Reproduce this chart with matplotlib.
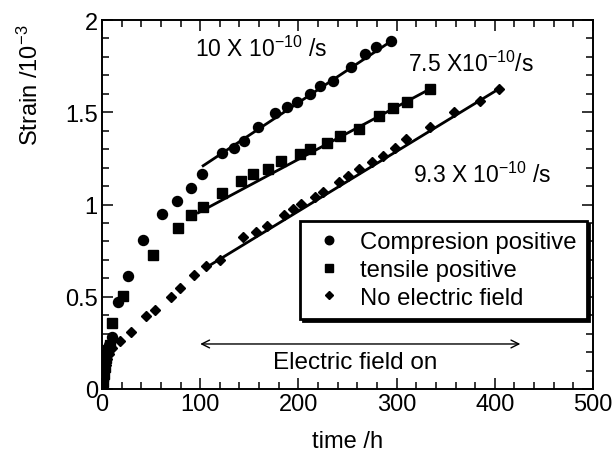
import matplotlib
matplotlib.use("Agg")
import matplotlib.pyplot as plt
from matplotlib.ticker import MultipleLocator

plt.rcParams['font.family'] = ['Liberation Sans', 'DejaVu Sans']
plt.rcParams['mathtext.fontset'] = 'custom'
plt.rcParams['mathtext.rm'] = 'Liberation Sans'
plt.rcParams['mathtext.it'] = 'Liberation Sans:italic'
plt.rcParams['mathtext.bf'] = 'Liberation Sans:bold'

# ---- data (time in h, strain in 1e-3) ----
comp_t = [0, 1, 2, 3, 5, 7, 10, 16.5, 26, 42, 61, 76, 91, 102, 122.5, 134, 145, 159,
          176.5, 188, 199, 212, 222, 235.5, 254, 268, 279, 294]
comp_s = [0, 0.05, 0.1, 0.15, 0.2, 0.24, 0.28, 0.47, 0.614, 0.81, 0.95, 1.02, 1.09, 1.165,
          1.277, 1.306, 1.346, 1.42, 1.494, 1.53, 1.557, 1.597, 1.64, 1.67, 1.744, 1.816,
          1.852, 1.888]

tens_t = [0, 1, 2, 3, 4, 6, 8, 10.5, 21.7, 52.3, 77.7, 90.3, 102.5, 122, 142, 154, 169,
          182, 201.6, 211.8, 229.4, 242.4, 262, 282.4, 296.3, 311, 334]
tens_s = [0, 0.04, 0.08, 0.12, 0.17, 0.21, 0.24, 0.358, 0.506, 0.726, 0.871, 0.943, 0.985,
          1.06, 1.13, 1.165, 1.19, 1.234, 1.274, 1.30, 1.333, 1.373, 1.41, 1.481, 1.523,
          1.556, 1.626]

nof_t = [0, 1, 2, 3, 4, 5, 7, 10, 18, 30, 45, 54, 70, 79, 94, 106, 120, 144, 157, 168,
         185, 195, 203, 217, 225, 241, 251, 262, 275, 286, 298, 310, 334, 358, 385, 404]
nof_s = [0, 0.03, 0.06, 0.1, 0.13, 0.16, 0.19, 0.22, 0.262, 0.307, 0.394, 0.428, 0.50,
         0.546, 0.618, 0.665, 0.70, 0.822, 0.85, 0.885, 0.943, 0.977, 1.003, 1.04, 1.07,
         1.12, 1.153, 1.19, 1.229, 1.265, 1.308, 1.355, 1.418, 1.50, 1.563, 1.626]

# linear fits (end points) during electric field on
comp_fit_t = [103, 293]
comp_fit_s = [1.21, 1.88]
tens_fit_t = [98, 334]
tens_fit_s = [0.955, 1.626]
nof_fit_t = [105, 404]
nof_fit_s = [0.655, 1.626]

labels = ["Compresion positive", "tensile positive", "No electric field"]
rate_labels = [r"10 X 10$^{-10}$ /s", r"7.5 X10$^{-10}$/s", r"9.3 X 10$^{-10}$ /s"]
field_t = [100, 426]

fig = plt.figure(figsize=(6.13, 4.56), dpi=100)
ax = fig.add_axes([102/613, 1-390/456, 491/613, 369/456])

ax.plot(comp_t, comp_s, 'o', color='black', ms=7.2, label=labels[0], zorder=3)
ax.plot(tens_t, tens_s, 's', color='black', ms=7.6, label=labels[1], zorder=3)
ax.plot(nof_t, nof_s, 'D', color='black', ms=4.9, label=labels[2], zorder=3)

for ft, fs in [(comp_fit_t, comp_fit_s), (tens_fit_t, tens_fit_s), (nof_fit_t, nof_fit_s)]:
    ax.plot(ft, fs, '-', color='black', lw=2.0, zorder=2)

ax.set_xlim(0, 500)
ax.set_ylim(0, 2)
ax.xaxis.set_major_locator(MultipleLocator(100))
ax.xaxis.set_minor_locator(MultipleLocator(20))
ax.yaxis.set_major_locator(MultipleLocator(0.5))
ax.yaxis.set_minor_locator(MultipleLocator(0.1))
ax.set_yticks([0, 0.5, 1, 1.5, 2])
ax.set_yticklabels(["0", "0.5", "1", "1.5", "2"])
ax.tick_params(which='both', direction='in', top=True, right=True, width=1.1,
               labelsize=17, pad=3)
ax.tick_params(which='major', length=8)
ax.tick_params(which='minor', length=5)
for sp in ax.spines.values():
    sp.set_linewidth(1.4)

fs_ann = 16.5
ax.text(94.5, 1.805, rate_labels[0], fontsize=fs_ann, ha='left', va='baseline')
ax.text(311.6, 1.724, rate_labels[1], fontsize=fs_ann, ha='left', va='baseline')
ax.text(316.7, 1.120, rate_labels[2], fontsize=fs_ann, ha='left', va='baseline')

ax.annotate('', xy=(field_t[0], 0.244), xytext=(field_t[1], 0.244),
            arrowprops=dict(arrowstyle='<->', color='black', lw=1.0,
                            shrinkA=0, shrinkB=0, mutation_scale=14))
ax.text(174, 0.146, "Electric field on", fontsize=17.5, ha='left', va='center')

leg = ax.legend(loc='upper left', bbox_to_anchor=(0.403, 0.455), fontsize=17.2,
                frameon=True, fancybox=False, borderpad=0.42, labelspacing=0.24,
                handletextpad=0.5, handlelength=1.6, borderaxespad=0,
                markerscale=0.85, shadow={'color': 'black', 'alpha': 1})
leg.get_frame().set_edgecolor('black')
leg.get_frame().set_linewidth(2.0)

fig.text(30/613, 1-85/456, r"Strain /10$^{-3}$", rotation=90, fontsize=17,
         ha='center', va='center')
fig.text(348/613, 1-442/456, "time /h", fontsize=17, ha='center', va='center')

fig.savefig("out.png", dpi=100)
